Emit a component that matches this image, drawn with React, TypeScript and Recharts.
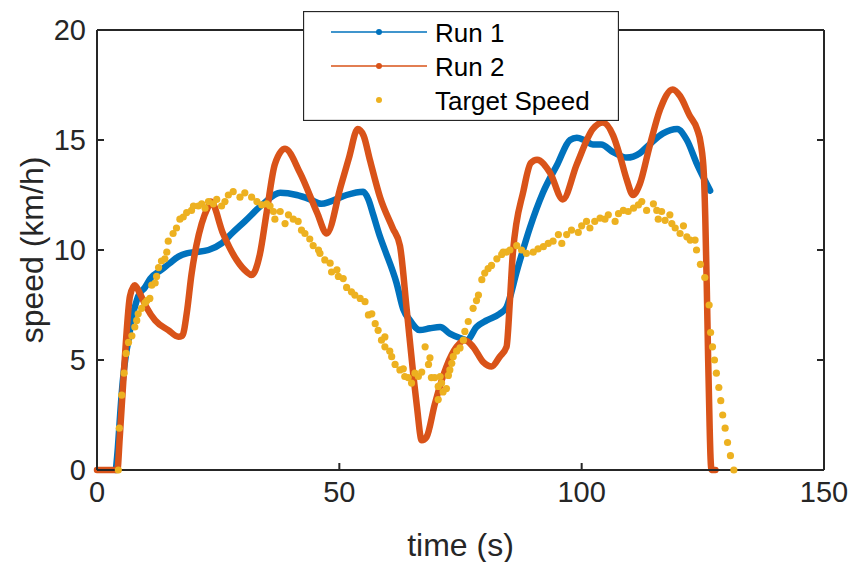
import React from 'react';
import { ComposedChart, Line, Scatter, XAxis, YAxis, Legend, ReferenceLine } from 'recharts';

const W = 851;
const H = 562;
const PLOT = { left: 97, right: 824, top: 30, bottom: 470 };
const Y_AXIS_W = 60;
const X_AXIS_H = 40;
const FONT = '"Liberation Sans", Arial, Helvetica, sans-serif';
const INK = '#262626';
const BLUE = '#0072BD';
const ORANGE = '#D95319';
const YELLOW = '#EDB120';

const xTicks = [0, 50, 100, 150];
const yTicks = [0, 5, 10, 15, 20];
const seriesNames = ['Run 1', 'Run 2', 'Target Speed'];
const xLabel = 'time (s)';
const yLabel = 'speed (km/h)';

const run1Time = [3.9, 4.3, 4.8, 5.3, 6.0, 6.5, 7.2, 7.8, 8.5, 9.9, 11, 13.3, 15, 16.8, 18.5, 20.2, 23, 25.7, 27.8, 30.5, 34.3, 37.8, 41.2, 44, 46.3, 48.1, 51.5, 54.9, 56, 57, 58.4, 59.4, 61.8, 63.2, 64.6, 66.6, 68.7, 70.8, 72.8, 74.9, 76.3, 78.3, 80.4, 83.1, 84.5, 86.7, 89.3, 92, 95, 97.6, 99, 100.5, 102.3, 104, 106.5, 109.3, 112, 114, 116.8, 119.7, 121.7, 123.8, 126.5];
const run1Speed = [0, 1.0, 2.6, 4.0, 5.3, 5.9, 6.9, 7.4, 7.9, 8.3, 8.7, 9.1, 9.4, 9.7, 9.85, 9.9, 10.0, 10.3, 10.75, 11.3, 12.1, 12.6, 12.5, 12.3, 12.1, 12.2, 12.5, 12.65, 12.3, 11.6, 10.6, 10.0, 8.5, 7.3, 6.8, 6.36, 6.44, 6.5, 6.2, 6.0, 5.9, 6.5, 6.8, 7.1, 7.4, 9.1, 11.0, 12.6, 13.9, 15.0, 15.1, 15.0, 14.8, 14.8, 14.45, 14.2, 14.4, 14.8, 15.3, 15.5, 15.0, 13.9, 12.7];

const run2Time = [0, 4.2, 4.7, 5.8, 6.8, 7.8, 8.9, 10.2, 12, 14.7, 16.8, 17.6, 18.5, 19.5, 20.5, 21.6, 23, 23.5, 26, 28.8, 30.9, 31.9, 33.6, 35, 36.7, 38.8, 41.9, 45.4, 47.4, 50.3, 52, 53.8, 55, 56.3, 58.4, 61, 62.5, 63.9, 65.3, 66, 67, 68, 69.7, 72.1, 74.2, 75.9, 77.6, 79.7, 81.4, 83.1, 84.5, 85.2, 85.8, 88, 89.5, 90.8, 93.5, 96.1, 99, 102.3, 104.4, 106.5, 108, 109.3, 110.6, 112, 114, 116.2, 118.8, 120.3, 122.3, 123.8, 124.6, 125.2, 125.5, 125.8, 126.1, 126.4, 126.6, 126.8, 127.6];
const run2Speed = [0, 0, 1.5, 5.3, 7.9, 8.4, 8.0, 7.4, 6.8, 6.36, 6.06, 6.1, 7.1, 8.9, 10.2, 11.2, 12.0, 12.2, 10.75, 9.55, 9.0, 8.86, 9.8, 11.7, 13.9, 14.6, 13.5, 11.7, 10.75, 12.9, 14.2, 15.5, 15.2, 14.1, 12.4, 11.0, 10.2, 7.3, 4.25, 2.9, 1.35, 1.5, 3.0, 4.7, 5.6, 5.9, 5.6, 4.9, 4.7, 5.15, 5.6, 7.7, 9.85, 12.7, 13.95, 14.1, 13.5, 12.3, 13.9, 15.5, 15.8, 15.2, 14.2, 13.2, 12.5, 13.0, 14.7, 16.4, 17.3, 17.0, 16.1, 15.5, 14.8, 13.5, 11.5, 8.5, 5.0, 2.0, 0.5, 0, 0];

const targetTime = [4.4, 4.6, 5.1, 5.6, 6.0, 6.5, 7.2, 7.8, 8.2, 8.5, 9.2, 9.9, 10.3, 10.9, 11.3, 12, 12.3, 12.7, 13.3, 14, 14.4, 14.7, 15.7, 16.4, 17.1, 17.8, 18.5, 19.5, 19.9, 20.9, 21.6, 22.3, 23, 24, 24.7, 25.7, 26.4, 27.1, 28.1, 29.5, 30.5, 31.9, 33, 34, 35, 35.7, 36.4, 36.7, 37.8, 38.8, 39.5, 40.5, 41.5, 42.2, 42.9, 43.9, 44.6, 45.7, 46, 47, 48.1, 48.4, 49.5, 49.8, 50.8, 51.5, 52.5, 53.2, 54.3, 55.3, 56, 56.7, 57.4, 58, 58.7, 59.4, 59.4, 60.4, 60.8, 61.5, 62.5, 63.2, 63.5, 64.2, 64.9, 65.6, 66.3, 67, 67.7, 68.4, 68.7, 69, 69.7, 70.4, 70.8, 71.1, 71.4, 70.4, 72.1, 72.5, 72.8, 73.2, 73.5, 74.2, 74.9, 75.6, 75.9, 76.6, 77.6, 78.3, 78.7, 79.4, 80, 80.7, 81.4, 82.5, 83.5, 83.8, 84.5, 85.2, 86.6, 87.6, 88.6, 90, 91, 92.1, 93.1, 94.1, 95.2, 95.9, 96.9, 97.9, 99.3, 100, 101, 101.7, 102.7, 103.8, 104.8, 105.5, 106.9, 107.6, 108.6, 109.6, 110.7, 111.7, 112.4, 113.4, 114.8, 115.5, 115.8, 116.5, 117.2, 118.2, 118.6, 119.3, 120.3, 121, 121.7, 122.4, 123.4, 123.7, 124.5, 125.4, 126.3, 126.6, 127, 127.4, 127.8, 128.3, 128.7, 129.1, 129.6, 130.1, 130.7, 131.4];
const targetSpeed = [0, 1.9, 3.4, 4.4, 5.3, 5.8, 6.1, 6.5, 6.8, 7.1, 7.35, 7.6, 7.7, 7.8, 8.4, 8.5, 8.8, 9.2, 9.5, 9.6, 9.9, 10.4, 10.75, 11.0, 11.4, 11.5, 11.7, 11.8, 12.0, 12.0, 12.1, 11.9, 12.2, 12.1, 12.3, 12.0, 12.2, 12.5, 12.65, 12.4, 12.6, 12.4, 12.2, 12.05, 12.1, 12.0, 11.75, 11.4, 11.75, 11.2, 11.6, 11.4, 11.3, 10.9, 10.75, 10.5, 10.2, 10.0, 9.85, 9.55, 9.4, 9.0, 9.1, 8.8, 8.7, 8.3, 8.1, 7.95, 7.8, 7.65, 7.05, 7.1, 6.65, 6.35, 5.9, 6.05, 5.6, 5.4, 5.15, 4.8, 4.55, 4.6, 4.25, 4.2, 3.95, 4.4, 4.25, 4.45, 5.6, 4.8, 5.1, 4.2, 4.2, 3.8, 4.25, 3.95, 3.55, 3.2, 3.7, 4.3, 4.55, 4.85, 5.15, 5.4, 5.55, 5.9, 6.3, 6.75, 7.35, 7.7, 7.95, 8.65, 8.95, 9.15, 9.3, 9.6, 9.8, 9.9, 9.9, 10.0, 10.2, 10.0, 9.85, 9.9, 10.05, 10.15, 10.3, 10.4, 10.7, 10.3, 10.7, 10.9, 10.8, 11.1, 11.3, 11.0, 11.3, 11.45, 11.4, 11.6, 11.3, 11.65, 11.8, 11.75, 11.9, 12.05, 12.2, 11.8, 12.1, 11.8, 11.4, 11.75, 11.35, 11.6, 11.2, 11.0, 10.75, 11.1, 10.6, 10.45, 10.45, 10.0, 9.35, 8.75, 7.5, 6.25, 5.6, 5.0, 4.4, 3.75, 3.15, 2.5, 1.9, 1.25, 0.65, 0];

const zip = (t: number[], v: number[]) => t.map((x, i) => ({ t: x, v: v[i] }));
const run1Data = zip(run1Time, run1Speed);
const run2Data = zip(run2Time, run2Speed);
const targetData = zip(targetTime, targetSpeed);

const XTick = (props: any) => {
  const { x, payload } = props;
  return (
    <g>
      <line x1={x} x2={x} y1={PLOT.bottom} y2={PLOT.bottom - 7} stroke={INK} strokeWidth={2} />
      <line x1={x} x2={x} y1={PLOT.top} y2={PLOT.top + 7} stroke={INK} strokeWidth={2} />
      <text x={x} y={PLOT.bottom + 32} textAnchor="middle" fontFamily={FONT} fontSize={29} fill={INK}>
        {payload.value}
      </text>
    </g>
  );
};

const YTick = (props: any) => {
  const { y, payload } = props;
  return (
    <g>
      <line x1={PLOT.left} x2={PLOT.left + 7} y1={y} y2={y} stroke={INK} strokeWidth={2} />
      <line x1={PLOT.right} x2={PLOT.right - 7} y1={y} y2={y} stroke={INK} strokeWidth={2} />
      <text x={PLOT.left - 11} y={y} dy="0.36em" textAnchor="end" fontFamily={FONT} fontSize={29} fill={INK}>
        {payload.value}
      </text>
    </g>
  );
};

const LegendBox = () => {
  const rows = [21, 55, 89];
  const colors = [BLUE, ORANGE, YELLOW];
  return (
    <svg width={316} height={110} style={{ display: 'block' }}>
      <rect x={0.5} y={0.5} width={315} height={109} fill="#ffffff" stroke={INK} strokeWidth={1.3} />
      {seriesNames.map((name, i) => (
        <g key={name}>
          {i < 2 && <line x1={28} x2={124} y1={rows[i]} y2={rows[i]} stroke={colors[i]} strokeWidth={1.6} />}
          <circle cx={76} cy={rows[i]} r={3} fill={colors[i]} />
          <text x={132} y={rows[i] + 10} fontFamily={FONT} fontSize={26} fill="#000">
            {name}
          </text>
        </g>
      ))}
    </svg>
  );
};

const XLabel = () => (
  <text
    x={PLOT.left + (PLOT.right - PLOT.left) / 2}
    y={PLOT.bottom + 86}
    textAnchor="middle"
    fontFamily={FONT}
    fontSize={32}
    fill={INK}
  >
    {xLabel}
  </text>
);

const YLabel = () => {
  const cx = 43;
  const cy = PLOT.top + (PLOT.bottom - PLOT.top) / 2;
  return (
    <text
      x={cx}
      y={cy}
      transform={`rotate(-90, ${cx}, ${cy})`}
      textAnchor="middle"
      fontFamily={FONT}
      fontSize={32}
      fill={INK}
    >
      {yLabel}
    </text>
  );
};

const Dot = (p: any) => <circle cx={p.cx} cy={p.cy} r={3.6} fill={YELLOW} />;

export default function App() {
  return (
    <div style={{ position: 'absolute', left: 0, top: 0, width: W, height: H, background: '#fff' }}>
      <ComposedChart
        width={W}
        height={H}
        margin={{
          top: PLOT.top,
          right: W - PLOT.right,
          bottom: H - PLOT.bottom - X_AXIS_H,
          left: PLOT.left - Y_AXIS_W,
        }}
      >
        <XAxis
          type="number"
          dataKey="t"
          domain={[0, 150]}
          ticks={xTicks}
          interval={0}
          height={X_AXIS_H}
          tickSize={0}
          tickMargin={0}
          tickLine={false}
          tick={<XTick />}
          axisLine={{ stroke: INK, strokeWidth: 2 }}
          label={{ content: XLabel }}
        />
        <YAxis
          type="number"
          dataKey="v"
          domain={[0, 20]}
          ticks={yTicks}
          interval={0}
          width={Y_AXIS_W}
          tickSize={0}
          tickMargin={0}
          tickLine={false}
          tick={<YTick />}
          axisLine={{ stroke: INK, strokeWidth: 2 }}
          label={{ content: YLabel }}
        />
        <ReferenceLine y={20} stroke={INK} strokeWidth={2} />
        <ReferenceLine x={150} stroke={INK} strokeWidth={2} />
        <Line
          data={run1Data}
          dataKey="v"
          name={seriesNames[0]}
          type="monotone"
          stroke={BLUE}
          strokeWidth={6.5}
          strokeLinejoin="round"
          strokeLinecap="round"
          dot={false}
          activeDot={false}
          isAnimationActive={false}
        />
        <Line
          data={run2Data}
          dataKey="v"
          name={seriesNames[1]}
          type="monotone"
          stroke={ORANGE}
          strokeWidth={6.5}
          strokeLinejoin="round"
          strokeLinecap="round"
          dot={false}
          activeDot={false}
          isAnimationActive={false}
        />
        <Scatter
          data={targetData}
          dataKey="v"
          name={seriesNames[2]}
          fill={YELLOW}
          shape={Dot}
          isAnimationActive={false}
        />
        <Legend
          layout="horizontal"
          verticalAlign="middle"
          align="center"
          content={LegendBox}
          wrapperStyle={{ position: 'absolute', left: 303, top: 11, width: 316, height: 110 }}
        />
      </ComposedChart>
    </div>
  );
}
